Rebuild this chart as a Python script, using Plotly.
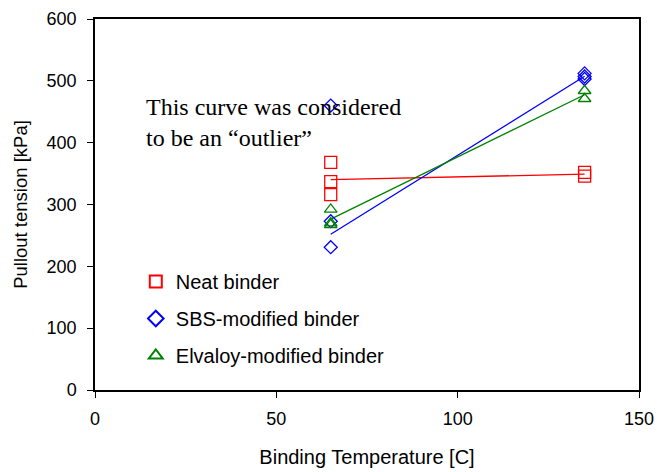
import numpy as np
import plotly.graph_objects as go

# Data
neat_x = [65, 65, 65, 135, 135]
neat_y = [368, 337, 316, 352, 346]
sbs_x = [65, 65, 135, 135, 135]
sbs_y = [273, 231, 512, 507, 503]
sbs_outlier_x = [65]
sbs_outlier_y = [460]
elv_x = [65, 65, 65, 135, 135]
elv_y = [292, 270, 267, 484, 471]

series = [
    ("Neat binder", neat_x, neat_y, "square-open", "#ff0000", 12),
    ("SBS-modified binder", sbs_x, sbs_y, "diamond-open", "#0000ff", 10),
    ("Elvaloy-modified binder", elv_x, elv_y, "triangle-up-open", "#008000", 11),
]

FONT = "Liberation Sans, Arial, sans-serif"

fig = go.Figure()
for name, xs, ys, sym, col, sz in series:
    xs_a = np.array(xs, float)
    ys_a = np.array(ys, float)
    k, b = np.polyfit(xs_a, ys_a, 1)
    lx = np.array([xs_a.min(), xs_a.max()])
    fig.add_trace(go.Scatter(x=lx, y=k * lx + b, mode="lines",
                             line=dict(color=col, width=1.3),
                             showlegend=False, hoverinfo="skip"))
for i, (name, xs, ys, sym, col, sz) in enumerate(series):
    fig.add_trace(go.Scatter(x=xs, y=ys, mode="markers", name=name,
                             legendgroup=f"g{i}",
                             marker=dict(symbol=sym, size=sz, color=col,
                                         line=dict(color=col, width=1.3))))
fig.add_trace(go.Scatter(x=sbs_outlier_x, y=sbs_outlier_y, mode="markers",
                         showlegend=False,
                         marker=dict(symbol="diamond-open", size=10, color="#0000ff",
                                     line=dict(color="#0000ff", width=1.3))))

fig.add_annotation(x=13.4, y=433, xref="x", yref="y", xanchor="left", yanchor="middle",
                   text="This curve was considered<br>to be an \u201coutlier\u201d",
                   showarrow=False, align="left",
                   font=dict(family="Liberation Serif, Times New Roman, serif", size=24, color="black"))

axis_common = dict(showline=True, linecolor="black", linewidth=1.5, mirror=True,
                   ticks="outside", ticklen=6, tickcolor="black", tickwidth=1,
                   showgrid=False, zeroline=False, automargin=False,
                   tickfont=dict(family=FONT, size=18, color="black"))

fig.update_layout(
    width=657, height=472,
    margin=dict(l=95, r=18, t=19, b=82),
    plot_bgcolor="white", paper_bgcolor="white",
    xaxis=dict(range=[0, 150], dtick=50, ticklabelstandoff=6,
               title=dict(text="Binding Temperature [C]", standoff=22,
                          font=dict(family=FONT, size=20, color="black")),
               **axis_common),
    yaxis=dict(range=[0, 600], dtick=100, ticklabelstandoff=7,
               title=dict(text="Pullout tension [kPa]", standoff=14,
                          font=dict(family=FONT, size=18.5, color="black")),
               **axis_common),
    legend=dict(x=0.075, y=0.345, xanchor="left", yanchor="top",
                bgcolor="rgba(0,0,0,0)", tracegroupgap=8, itemsizing="constant",
                itemwidth=30,
                font=dict(family=FONT, size=20, color="black")),
    showlegend=True,
)

fig.write_html("out.html")
